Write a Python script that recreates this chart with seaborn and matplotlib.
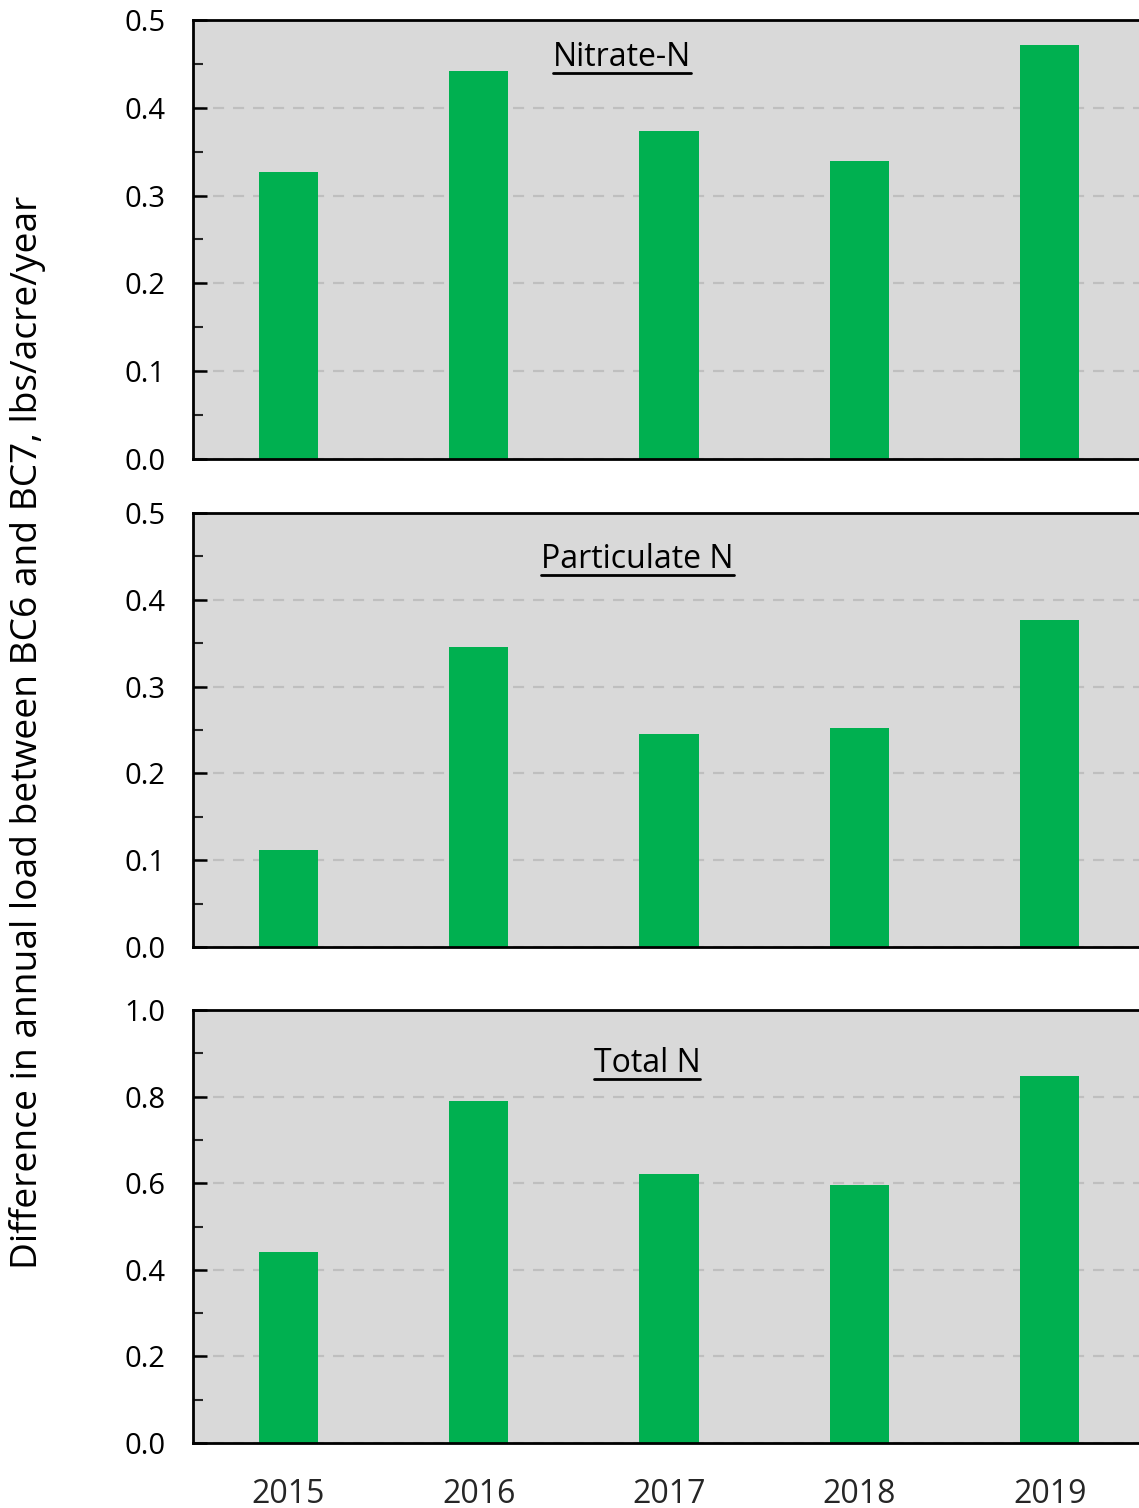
import matplotlib
matplotlib.use("Agg")
import matplotlib.pyplot as plt
from matplotlib.ticker import MultipleLocator
from matplotlib.lines import Line2D
import seaborn as sns
import pandas as pd

years = ["2015", "2016", "2017", "2018", "2019"]
nitrate_n = [0.327, 0.442, 0.374, 0.339, 0.472]
particulate_n = [0.112, 0.346, 0.245, 0.252, 0.377]
total_n = [0.441, 0.790, 0.621, 0.596, 0.848]

panel_titles = ["Nitrate-N", "Particulate N", "Total N"]
panel_values = [nitrate_n, particulate_n, total_n]
panel_ylim = [0.5, 0.5, 1.0]
panel_major = [0.1, 0.1, 0.2]

sns.set_theme(style="white")
plt.rcParams["font.family"] = ["Open Sans", "DejaVu Sans"]

BAR = "#00b050"
BG = "#d9d9d9"

fig = plt.figure(figsize=(11.39, 15.08), dpi=100)
H = 1508.0
W = 1139.0
left = 193 / W
width = 952 / W
boxes = [(20, 459), (513, 947), (1010, 1443)]
title_pos = [(0.451, 0.915), (0.467, 0.892), (0.477, 0.877)]

axes = []
for i, (top, bot) in enumerate(boxes):
    ax = fig.add_axes([left, 1 - bot / H, width, (bot - top) / H])
    axes.append(ax)
    df = pd.DataFrame({"year": years, "value": panel_values[i]})
    sns.barplot(data=df, x="year", y="value", color=BAR, saturation=1,
                width=0.31, linewidth=0, ax=ax)
    ax.set_facecolor(BG)
    ax.set_xlim(-0.5, 4.5)
    ymax = panel_ylim[i]
    ax.set_ylim(0, ymax)
    ax.yaxis.set_major_locator(MultipleLocator(panel_major[i]))
    ax.yaxis.set_minor_locator(MultipleLocator(panel_major[i] / 2))
    ax.set_yticklabels([f"{t:.1f}" for t in ax.get_yticks()])
    ax.set_ylim(0, ymax)
    ax.tick_params(axis="y", which="major", direction="in", length=10, width=1.8,
                   labelsize=21, pad=20, left=True, colors="black")
    ax.tick_params(axis="y", which="minor", direction="in", length=7, width=1.5, left=True)
    ax.tick_params(axis="x", length=0, labelsize=23, pad=25)
    for g in ax.yaxis.get_majorticklocs()[1:-1]:
        ax.axhline(g, color="#bfbfbf", linestyle=(0, (5, 4)), linewidth=1.6, zorder=0)
    ax.set_axisbelow(True)
    for side in ["left", "bottom", "top", "right"]:
        ax.spines[side].set_color("black")
        ax.spines[side].set_linewidth(2)
    ax.set_xlabel("")
    ax.set_ylabel("")
    if i < 2:
        ax.set_xticklabels([])
    tx, ty = title_pos[i]
    t = ax.text(tx, ty, panel_titles[i], transform=ax.transAxes, ha="center",
                va="center", fontsize=23, color="black")
    axes[-1]._title_text = t

fig.text(28 / W, 1 - 732 / H, "Difference in annual load between BC6 and BC7, lbs/acre/year",
         rotation=90, ha="center", va="center", fontsize=26.7, color="black")

# underline panel headings
fig.canvas.draw()
renderer = fig.canvas.get_renderer()
for ax in axes:
    t = ax._title_text
    bb = t.get_window_extent(renderer=renderer)
    y = bb.y0 + 1
    fig.add_artist(Line2D([bb.x0 / fig.bbox.width, bb.x1 / fig.bbox.width],
                          [y / fig.bbox.height, y / fig.bbox.height],
                          transform=fig.transFigure, color="black", linewidth=2))

fig.savefig("out.png", dpi=100)
